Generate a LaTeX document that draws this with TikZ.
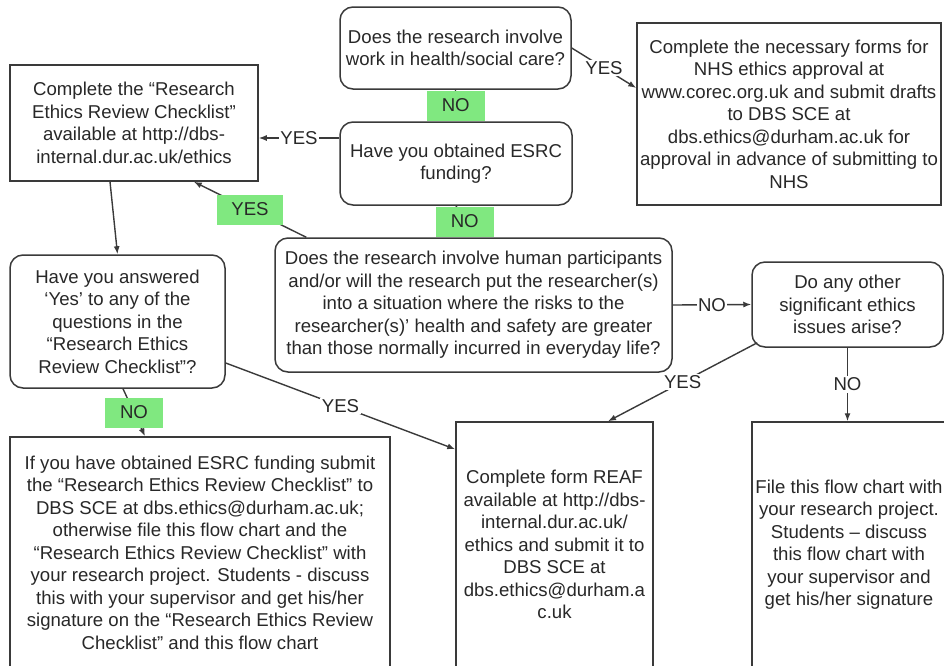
\documentclass[tikz,border=0pt]{standalone}
\usepackage{fontspec}
\setmainfont{Liberation Sans}
\usetikzlibrary{arrows.meta,calc}
\definecolor{linec}{RGB}{58,58,58}
\definecolor{textc}{RGB}{40,40,40}
\definecolor{hl}{RGB}{128,232,128}
\newcommand{\fsz}{\fontsize{18.6}{22.5}\selectfont}
\tikzset{
  base/.style={draw=linec, line width=1.5pt, align=center, inner sep=0pt, font=\fsz, text=textc},
  rbox/.style={base, rounded corners=13pt},
  sbox/.style={base},
  conn/.style={draw=linec, line width=1.4pt, -{Latex[length=8pt,width=6pt]}},
  lbl/.style={fill=white, inner sep=1.5pt, font=\fsz, text=textc},
  glbl/.style={fill=hl, inner sep=1pt, font=\fsz, text=textc, minimum width=58pt, minimum height=30pt}
}
\begin{document}
\begin{tikzpicture}[x=1pt,y=-1pt]
\useasboundingbox (0,0) rectangle (944,665);
\fill[white] (0,0) rectangle (944,665);
\clip (0,0) rectangle (944,665);

\node[rbox, minimum width=231pt, minimum height=82pt] (q1) at (455.5,48)
  {Does the research involve\\work in health/social care?};
\node[rbox, minimum width=232pt, minimum height=83pt] (q2) at (456,163.5)
  {Have you obtained ESRC\\funding?};
\node[sbox, minimum width=248pt, minimum height=116pt] (chk) at (134,123)
  {Complete the “Research\\Ethics Review Checklist”\\available at http://dbs-\\internal.dur.ac.uk/ethics};
\node[sbox, minimum width=304pt, minimum height=182pt] (nhs) at (789,114)
  {Complete the necessary forms for\\NHS ethics approval at\\www.corec.org.uk and submit drafts\\to DBS SCE at\\dbs.ethics@durham.ac.uk for\\approval in advance of submitting to\\NHS};
\node[rbox, minimum width=397pt, minimum height=134pt] (q3) at (473.5,305)
  {Does the research involve human participants\\and/or will the research put the researcher(s)\\into a situation where the risks to the\\researcher(s)’ health and safety are greater\\than those normally incurred in everyday life?};
\node[rbox, minimum width=191pt, minimum height=85pt] (q4) at (847.5,304.5)
  {Do any other\\significant ethics\\issues arise?};
\node[rbox, minimum width=215pt, minimum height=133pt] (q5) at (117.5,321.5)
  {Have you answered\\‘Yes’ to any of the\\questions in the\\“Research Ethics\\Review Checklist”?};
\node[sbox, minimum width=380pt, minimum height=231pt] (bl) at (200,552.5)
  {If you have obtained ESRC funding submit\\the “Research Ethics Review Checklist” to\\DBS SCE at dbs.ethics@durham.ac.uk;\\otherwise file this flow chart and the\\“Research Ethics Review Checklist” with\\your research project. Students - discuss\\this with your supervisor and get his/her\\signature on the “Research Ethics Review\\Checklist” and this flow chart};
\node[sbox, minimum width=197pt, minimum height=245pt] (reaf) at (554.5,544.5)
  {Complete form REAF\\available at http://dbs-\\internal.dur.ac.uk/\\ethics and submit it to\\DBS SCE at\\dbs.ethics@durham.a\\c.uk};
\node[sbox, minimum width=194pt, minimum height=245pt] (file) at (849,544.5)
  {File this flow chart with\\your research project.\\Students -- discuss\\this flow chart with\\your supervisor and\\get his/her signature};

% connectors
\draw[conn] (q1.south) -- node[glbl]{NO} (q2.north);
\draw[conn] (q2.south) -- node[glbl]{NO} (q3.north);
\draw[conn] (q1.east) -- node[lbl]{YES} ([yshift=26pt]nhs.west);
\draw[conn] ([yshift=25.5pt]q2.west) -- node[lbl]{YES} ([yshift=-15pt]chk.east);
\draw[conn] ([xshift=32pt]q3.north west) -- node[glbl, minimum width=66pt]{YES} ([xshift=-65pt]chk.south east);
\draw[conn] ([xshift=-24pt]chk.south) -- (q5.north);
\draw[conn] ([xshift=5.5pt]q5.south) -- node[glbl]{NO} ([xshift=-55pt]bl.north);
\draw[conn] ([yshift=-41.5pt]q5.east) -- node[lbl]{YES} ([yshift=-28pt]reaf.north west);
\draw[conn] (q3.east) -- node[lbl]{NO} (q4.west);
\draw[conn] ([xshift=6pt,yshift=5pt]q4.south west) -- node[lbl]{YES} ([xshift=53.5pt]reaf.north);
\draw[conn] (q4.south) -- node[lbl]{NO} (q4.south |- file.north);
\end{tikzpicture}
\end{document}
